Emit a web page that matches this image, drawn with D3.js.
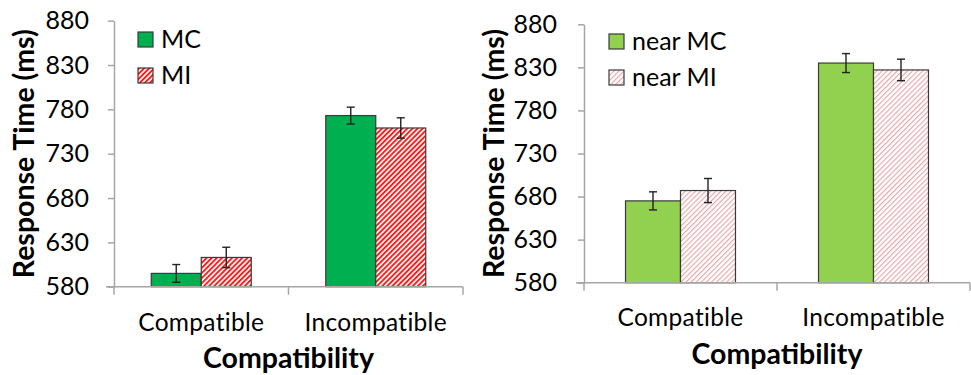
<!DOCTYPE html>
<html lang="en">
<head>
  <meta charset="UTF-8">
  <title>Response Time by Compatibility</title>
  <style>
    body { margin: 0; background: #fff; }
    svg text { font-family: Lato, "Open Sans", sans-serif; fill: #000; }
    .tick-label { font-size: 25px; }
    .cat-label { font-size: 24.5px; letter-spacing: 0.3px; }
    .axis-title { font-size: 28.5px; font-weight: bold; }
    .legend-text { font-size: 25px; }
  </style>
</head>
<body>
  <div id="chart"></div>
  <script src="https://d3js.org/d3.v7.min.js"></script>
  <script>
    // data
    const categories = ["Compatible", "Incompatible"];
    const yTicks = [580, 630, 680, 730, 780, 830, 880];

    const leftSeries = ["MC", "MI"];
    const leftMeans = { MC: [595, 773], MI: [613, 759] };
    const leftErrors = { MC: [10, 9.5], MI: [11.5, 11.5] };

    const rightSeries = ["near MC", "near MI"];
    const rightMeans = { "near MC": [675, 835], "near MI": [687, 827] };
    const rightErrors = { "near MC": [10.5, 11], "near MI": [14, 12.5] };

    const width = 971;
    const height = 375;

    const svg = d3.select('#chart')
      .append('svg')
      .attr('width', width)
      .attr('height', height);

    const defs = svg.append('defs');

    function stripes(id, color, period, lineW) {
      const p = defs.append('pattern')
        .attr('id', id)
        .attr('patternUnits', 'userSpaceOnUse')
        .attr('width', period)
        .attr('height', period)
        .attr('patternTransform', 'rotate(45)');
      p.append('rect').attr('width', period).attr('height', period).attr('fill', '#fff');
      p.append('rect').attr('width', lineW).attr('height', period).attr('fill', color);
    }
    stripes('redStripe', '#ff1a1a', 3.6, 1.9);
    stripes('pinkStripe', '#e8a4a4', 3.6, 1.1);

    function drawPanel(cfg) {
      const g = svg.append('g');

      const yScale = d3.scaleLinear()
        .domain([580, 880])
        .range([cfg.y0, cfg.y1]);

      const xScale = d3.scaleBand()
        .domain(categories)
        .range([cfg.x0, cfg.x1])
        .padding(0);

      const inner = d3.scaleBand()
        .domain(cfg.series)
        .range([0, xScale.bandwidth()])
        .paddingInner(0)
        .paddingOuter(cfg.outer);

      // y axis
      const yAxis = d3.axisLeft(yScale)
        .tickValues(yTicks)
        .tickSize(6)
        .tickPadding(cfg.tickPad)
        .tickSizeOuter(0);
      const ya = g.append('g')
        .attr('transform', `translate(${cfg.x0},0)`)
        .call(yAxis);
      ya.select('.domain').attr('stroke', '#a6a6a6').attr('stroke-width', 1.5);
      ya.selectAll('.tick line').attr('stroke', '#a6a6a6').attr('stroke-width', 1.5);
      ya.selectAll('.tick text')
        .attr('class', 'tick-label')
        .attr('font-family', null)
        .attr('font-size', null)
        .attr('fill', '#000');

      // bars
      const rows = [];
      categories.forEach((c, i) => {
        cfg.series.forEach(s => {
          rows.push({ cat: c, series: s, value: cfg.means[s][i], err: cfg.errors[s][i] });
        });
      });

      g.selectAll('.bar')
        .data(rows)
        .enter()
        .append('rect')
        .attr('class', 'bar')
        .attr('x', d => xScale(d.cat) + inner(d.series))
        .attr('y', d => yScale(d.value))
        .attr('width', inner.bandwidth())
        .attr('height', d => yScale(580) - yScale(d.value))
        .attr('fill', d => cfg.fills[d.series])
        .attr('stroke', '#3a3a3a')
        .attr('stroke-width', 1.2);

      // x axis with category dividers
      const xa = g.append('g')
        .attr('transform', `translate(0,${cfg.y0})`);
      xa.append('line')
        .attr('x1', cfg.x0 - 8).attr('x2', cfg.x1)
        .attr('stroke', '#a6a6a6').attr('stroke-width', 1.5);
      const bounds = [cfg.x0].concat(categories.map(c => xScale(c) + xScale.bandwidth()));
      xa.selectAll('.divider')
        .data(bounds)
        .enter()
        .append('line')
        .attr('class', 'divider')
        .attr('x1', d => d).attr('x2', d => d)
        .attr('y1', 0).attr('y2', 8)
        .attr('stroke', '#a6a6a6').attr('stroke-width', 1.5);

      g.selectAll('.cat-label')
        .data(categories)
        .enter()
        .append('text')
        .attr('class', 'cat-label')
        .attr('x', d => xScale(d) + xScale.bandwidth() / 2)
        .attr('y', cfg.catY)
        .attr('text-anchor', 'middle')
        .text(d => d);

      // error bars
      const eb = g.selectAll('.err')
        .data(rows)
        .enter()
        .append('g')
        .attr('class', 'err')
        .attr('transform', d => `translate(${xScale(d.cat) + inner(d.series) + inner.bandwidth() / 2},0)`);
      eb.append('line')
        .attr('y1', d => yScale(d.value + d.err))
        .attr('y2', d => yScale(d.value - d.err))
        .attr('stroke', '#222').attr('stroke-width', 1.4);
      eb.append('line')
        .attr('x1', -4).attr('x2', 4)
        .attr('y1', d => yScale(d.value + d.err))
        .attr('y2', d => yScale(d.value + d.err))
        .attr('stroke', '#222').attr('stroke-width', 1.4);
      eb.append('line')
        .attr('x1', -4).attr('x2', 4)
        .attr('y1', d => yScale(d.value - d.err))
        .attr('y2', d => yScale(d.value - d.err))
        .attr('stroke', '#222').attr('stroke-width', 1.4);

      // titles
      g.append('text')
        .attr('class', 'axis-title')
        .attr('transform', `translate(${cfg.yTitleX},${(cfg.y0 + cfg.y1) / 2}) rotate(-90)`)
        .attr('text-anchor', 'middle')
        .text('Response Time (ms)');

      g.append('text')
        .attr('class', 'axis-title')
        .attr('x', (cfg.x0 + cfg.x1) / 2)
        .attr('y', cfg.titleY)
        .attr('text-anchor', 'middle')
        .text('Compatibility');

      // legend
      const lg = g.selectAll('.legend')
        .data(cfg.series)
        .enter()
        .append('g')
        .attr('class', 'legend')
        .attr('transform', (d, i) => `translate(${cfg.legX},${cfg.legY + i * 36})`);
      lg.append('rect')
        .attr('width', 15).attr('height', 15)
        .attr('fill', d => cfg.fills[d])
        .attr('stroke', '#3a3a3a')
        .attr('stroke-width', 1.2);
      lg.append('text')
        .attr('class', 'legend-text')
        .attr('x', 23)
        .attr('y', 16)
        .text(d => d);
    }

    drawPanel({
      x0: 114, x1: 463, y0: 286.7, y1: 20.7,
      series: leftSeries, means: leftMeans, errors: leftErrors,
      outer: 0.745, tickPad: 19,
      fills: { MC: '#00b050', MI: 'url(#redStripe)' },
      yTitleX: 34, catY: 331, titleY: 368,
      legX: 138, legY: 32
    });

    drawPanel({
      x0: 584, x1: 970, y0: 282.7, y1: 24.3,
      series: rightSeries, means: rightMeans, errors: rightErrors,
      outer: 0.755, tickPad: 21,
      fills: { 'near MC': '#92d050', 'near MI': 'url(#pinkStripe)' },
      yTitleX: 504, catY: 326, titleY: 364,
      legX: 609, legY: 34
    });
  </script>
</body>
</html>
